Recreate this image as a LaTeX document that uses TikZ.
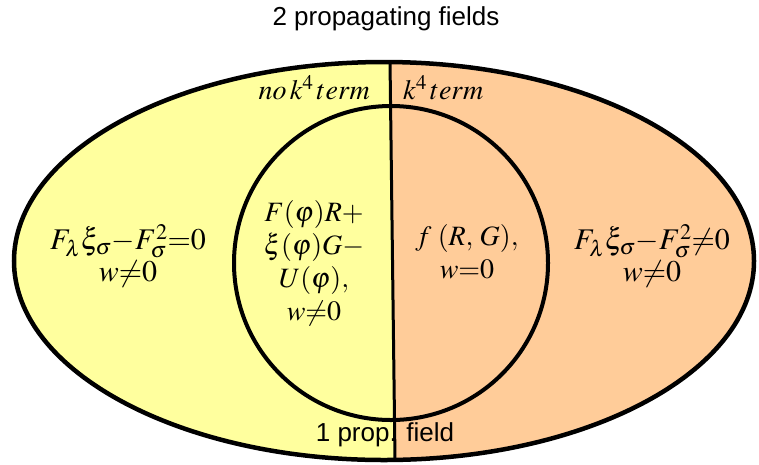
\documentclass[tikz,border=0pt]{standalone}
\usepackage{mathptmx}
\usepackage[no-math]{fontspec}
\setmainfont{Liberation Serif}
\setsansfont{Liberation Sans}
\usepackage{tikz}
\usetikzlibrary{calc}

\definecolor{nofourth}{RGB}{255,255,158}
\definecolor{fourth}{RGB}{255,204,153}

\begin{document}
\begin{tikzpicture}[
    x=1pt, y=-1pt,
    outline/.style={draw,line width=4.5pt},
    split/.style={draw,line width=3pt},
    formula/.style={align=center,inner sep=0pt,font=\fontsize{28}{33}\selectfont},
    heading/.style={inner sep=0pt,font=\sffamily\fontsize{26}{30}\selectfont}
]
\useasboundingbox (0,0) rectangle (759,464);
\coordinate (centre) at (384,261);
\coordinate (top) at (390,61);
\coordinate (bot) at (395,460);
\begin{scope}
    \clip (centre) ellipse [x radius=370pt, y radius=199pt];
    \fill[nofourth] (0,0) -- ($(top)!-1!(bot)$) -- ($(bot)!-1!(top)$) -- (0,464) -- cycle;
    \fill[fourth] (759,0) -- ($(top)!-1!(bot)$) -- ($(bot)!-1!(top)$) -- (759,464) -- cycle;
\end{scope}
\draw[split] (top) -- (bot);
\draw[outline,line width=4pt] (391,263) circle [radius=157pt];
\draw[outline] (centre) ellipse [x radius=370pt, y radius=199pt];

\node[heading] (two) at (386,19) {2 propagating fields};
\node[heading] (one) at (385,435) {1 prop. field};
\node[formula,anchor=east] (nok) at (370,88) {$no\,k^4\,term$};
\node[formula,anchor=west] (k4) at (403,88) {$k^4\,term$};
\node[formula,font=\fontsize{30}{32}\selectfont] (left) at (128,256) {$F_\lambda\xi_\sigma{-}F_\sigma^2{=}0$\\$w{\neq}0$};
\node[formula] (gb) at (314,263) {$F(\varphi)R+$\\$\xi(\varphi)G-$\\$U(\varphi),$\\$w{\neq}0$};
\node[formula] (fRG) at (467,252) {$f\;(R,\,G),$\\$w{=}0$};
\node[formula,font=\fontsize{30}{32}\selectfont] (right) at (652,256) {$F_\lambda\xi_\sigma{-}F_\sigma^2{\neq}0$\\$w{\neq}0$};
\end{tikzpicture}
\end{document}
